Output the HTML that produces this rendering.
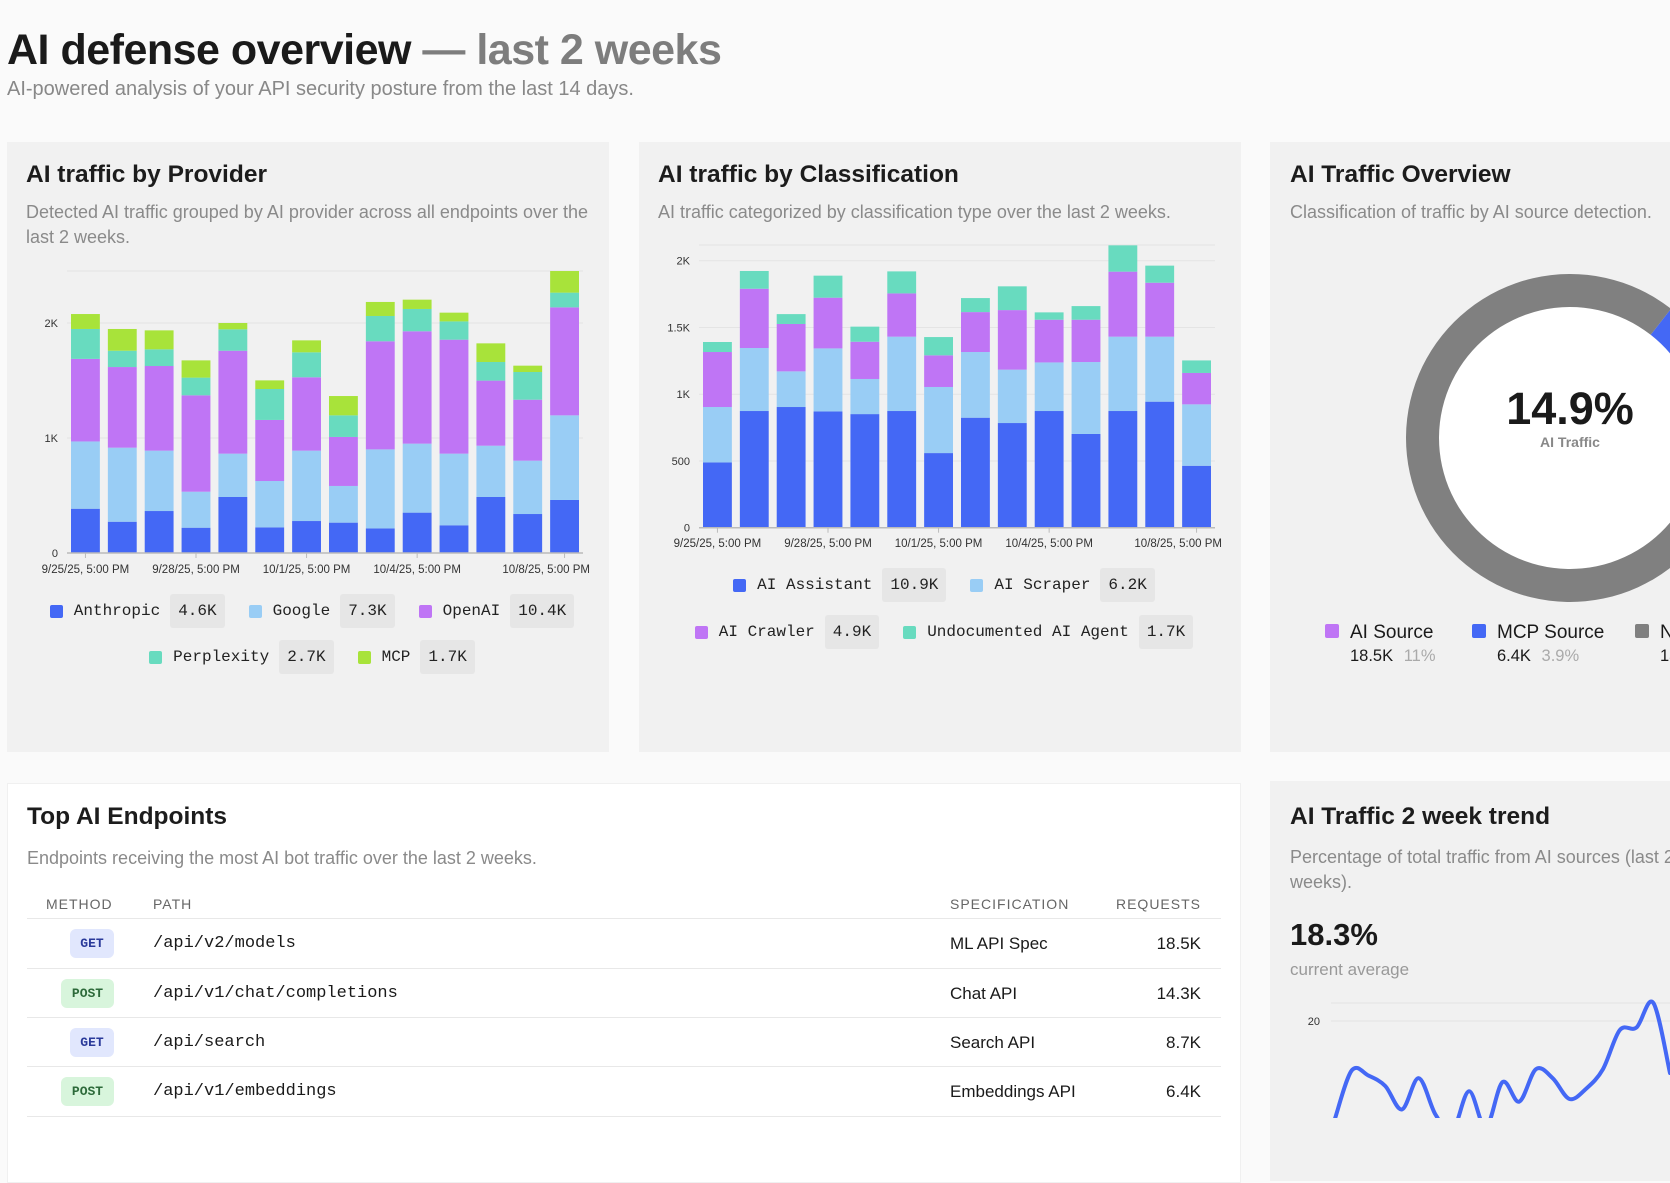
<!DOCTYPE html>
<html><head><meta charset="utf-8">
<style>
*{box-sizing:border-box;margin:0;padding:0}
body{width:1670px;height:1118px;overflow:hidden;background:#fafafa;font-family:"Liberation Sans",sans-serif;color:#1a1a1a;position:relative}
.abs{position:absolute}
.card{position:absolute;background:#f1f1f1}
.ct{position:absolute;font-size:24.5px;font-weight:bold;color:#1c1c1c;white-space:nowrap}
.cd{position:absolute;font-size:18px;color:#8a8a8a;line-height:25px}
.mono{font-family:"Liberation Mono",monospace}
.legrow{position:absolute;display:flex;justify-content:center;gap:24px;height:32px;align-items:center}
.leg{display:flex;align-items:center;font-family:"Liberation Mono",monospace;font-size:16px;color:#222;white-space:nowrap}
.sw{width:13px;height:13px;border-radius:2px;margin-right:11px}
.bd{background:#e6e6e6;padding:8px 8px;margin-left:10px;border-radius:3px}
.th{position:absolute;font-size:14px;color:#666;letter-spacing:1px;top:896px}
.row{position:absolute;font-size:17px}
.sep{position:absolute;left:27px;width:1194px;height:1px;background:#e8e8e8}
.badge{position:absolute;height:29px;border-radius:6px;font-family:"Liberation Mono",monospace;font-weight:bold;font-size:13px;display:flex;align-items:center;justify-content:center}
.get{background:#e1e7fd;color:#2a3a9a;width:44px;left:70px}
.post{background:#d8f5dc;color:#2d6a3a;width:53px;left:61px}
.dl{position:absolute;top:622px;font-size:19px;white-space:nowrap}
.dl .q{display:inline-block;width:14px;height:14px;border-radius:2px;margin-right:11px}
.dl .s{margin-left:25px;font-size:16.5px;margin-top:3px}
</style></head><body>
<div class="abs" style="left:7px;top:26px;font-size:43px;font-weight:bold;letter-spacing:-0.5px;white-space:nowrap">AI defense overview <span style="color:#7d7d7d">— last 2 weeks</span></div>
<div class="abs" style="left:7px;top:78px;font-size:20px;color:#888;white-space:nowrap">AI-powered analysis of your API security posture from the last 14 days.</div>

<div class="card" style="left:7px;top:142px;width:602px;height:610px"></div>
<div class="card" style="left:639px;top:142px;width:602px;height:610px"></div>
<div class="card" style="left:1270px;top:142px;width:420px;height:610px"></div>
<div class="card" style="left:7px;top:783px;width:1234px;height:400px;background:#fff;border:1px solid #f0f0f0"></div>
<div class="card" style="left:1270px;top:781px;width:420px;height:400px"></div>

<div class="ct" style="left:26px;top:161px">AI traffic by Provider</div>
<div class="cd" style="left:26px;top:200px;width:568px">Detected AI traffic grouped by AI provider across all endpoints over the last 2 weeks.</div>
<div class="ct" style="left:658px;top:161px">AI traffic by Classification</div>
<div class="cd" style="left:658px;top:200px;white-space:nowrap">AI traffic categorized by classification type over the last 2 weeks.</div>
<div class="ct" style="left:1290px;top:161px">AI Traffic Overview</div>
<div class="cd" style="left:1290px;top:200px;white-space:nowrap">Classification of traffic by AI source detection.</div>

<svg id="svg" class="abs" style="left:0;top:0" width="1670" height="1118"></svg>

<!-- provider legend -->
<div class="legrow" style="left:7px;width:610px;top:595px">
<div class="leg"><div class="sw" style="background:#4468f5"></div>Anthropic<span class="bd">4.6K</span></div>
<div class="leg"><div class="sw" style="background:#99cdf5"></div>Google<span class="bd">7.3K</span></div>
<div class="leg"><div class="sw" style="background:#bf75f5"></div>OpenAI<span class="bd">10.4K</span></div>
</div>
<div class="legrow" style="left:7px;width:610px;top:641px">
<div class="leg"><div class="sw" style="background:#68dbbf"></div>Perplexity<span class="bd">2.7K</span></div>
<div class="leg"><div class="sw" style="background:#a8e33a"></div>MCP<span class="bd">1.7K</span></div>
</div>
<!-- classification legend -->
<div class="legrow" style="left:639px;width:610px;top:569px">
<div class="leg"><div class="sw" style="background:#4468f5"></div>AI Assistant<span class="bd">10.9K</span></div>
<div class="leg"><div class="sw" style="background:#99cdf5"></div>AI Scraper<span class="bd">6.2K</span></div>
</div>
<div class="legrow" style="left:639px;width:610px;top:616px">
<div class="leg"><div class="sw" style="background:#bf75f5"></div>AI Crawler<span class="bd">4.9K</span></div>
<div class="leg"><div class="sw" style="background:#68dbbf"></div>Undocumented AI Agent<span class="bd">1.7K</span></div>
</div>

<!-- donut text -->
<div class="abs" style="left:1470px;top:383px;width:200px;text-align:center;font-size:45px;font-weight:bold">14.9%</div>
<div class="abs" style="left:1470px;top:434px;width:200px;text-align:center;font-size:14px;font-weight:bold;color:#888">AI Traffic</div>
<div class="dl" style="left:1325px"><span class="q" style="background:#bf75f5"></span>AI Source<div class="s">18.5K <span style="color:#aaa;margin-left:6px">11%</span></div></div>
<div class="dl" style="left:1472px"><span class="q" style="background:#4468f5"></span>MCP Source<div class="s">6.4K <span style="color:#aaa;margin-left:6px">3.9%</span></div></div>
<div class="dl" style="left:1635px"><span class="q" style="background:#808080"></span>Non-AI<div class="s">136K</div></div>

<!-- endpoints table -->
<div class="ct" style="left:27px;top:803px">Top AI Endpoints</div>
<div class="cd" style="left:27px;top:846px;white-space:nowrap">Endpoints receiving the most AI bot traffic over the last 2 weeks.</div>
<div class="th" style="left:46px">METHOD</div>
<div class="th" style="left:153px">PATH</div>
<div class="th" style="left:950px">SPECIFICATION</div>
<div class="th" style="left:1100px;width:101px;text-align:right">REQUESTS</div>
<div class="sep" style="top:918px"></div><div class="sep" style="top:968px"></div><div class="sep" style="top:1017px"></div><div class="sep" style="top:1066px"></div><div class="sep" style="top:1116px"></div>

<div class="badge get" style="top:929px">GET</div>
<div class="row mono" style="left:153px;top:934px">/api/v2/models</div>
<div class="row" style="left:950px;top:934px">ML API Spec</div>
<div class="row" style="left:1100px;width:101px;text-align:right;top:934px">18.5K</div>

<div class="badge post" style="top:979px">POST</div>
<div class="row mono" style="left:153px;top:984px">/api/v1/chat/completions</div>
<div class="row" style="left:950px;top:984px">Chat API</div>
<div class="row" style="left:1100px;width:101px;text-align:right;top:984px">14.3K</div>

<div class="badge get" style="top:1028px">GET</div>
<div class="row mono" style="left:153px;top:1033px">/api/search</div>
<div class="row" style="left:950px;top:1033px">Search API</div>
<div class="row" style="left:1100px;width:101px;text-align:right;top:1033px">8.7K</div>

<div class="badge post" style="top:1077px">POST</div>
<div class="row mono" style="left:153px;top:1082px">/api/v1/embeddings</div>
<div class="row" style="left:950px;top:1082px">Embeddings API</div>
<div class="row" style="left:1100px;width:101px;text-align:right;top:1082px">6.4K</div>

<!-- trend -->
<div class="ct" style="left:1290px;top:803px">AI Traffic 2 week trend</div>
<div class="cd" style="left:1290px;top:845px;width:420px">Percentage of total traffic from AI sources (last 2 weeks).</div>
<div class="abs" style="left:1290px;top:917px;font-size:31px;font-weight:bold">18.3%</div>
<div class="abs" style="left:1290px;top:960px;font-size:17px;color:#999">current average</div>

<script>
const dates = ["9/25/25, 5:00 PM","9/26","9/27","9/28/25, 5:00 PM","9/29","9/30","10/1/25, 5:00 PM","10/2","10/3","10/4/25, 5:00 PM","10/5","10/6","10/7","10/8/25, 5:00 PM"];
const tickIdx = [0,3,6,9,13];
const anthropic = [385,272,365,220,487,223,278,264,214,351,241,487,339,461];
const google = [585,644,525,313,377,403,612,319,687,600,623,446,464,736];
const openai = [718,701,736,838,895,531,638,426,940,977,991,566,530,939];
const perplexity = [260,142,145,154,186,269,217,188,220,194,159,162,241,128];
const mcp = [130,189,165,150,55,75,104,168,122,81,76,162,55,188];
const provTicks = [0,1000,2000];
const provTickLabels = ["0","1K","2K"];

const assistant = [489,874,904,871,851,874,559,824,784,874,702,874,944,464];
const scraper = [415,472,267,472,263,557,495,492,400,364,539,557,487,460];
const crawler = [412,444,355,380,279,324,237,299,446,320,317,487,404,235];
const undocumented = [75,133,74,165,113,165,137,105,178,55,102,197,128,94];
const clsTicks = [0,500,1000,1500,2000];
const clsTickLabels = ["0","500","1K","1.5K","2K"];

const donutLabels = ["MCP Source","AI Source","Non-AI"];
const donutValues = [3.9,11.0,85.1];

const trendValues = [12.5,16.2,15.8,15.0,13.2,15.6,12.8,11.5,14.6,11.8,15.3,13.8,16.3,15.6,14.0,14.8,16.3,19.3,19.5,21.4,16.0];

const NS="http://www.w3.org/2000/svg";
const svg=document.getElementById('svg');
function mk(tag,attrs,parent){const e=document.createElementNS(NS,tag);for(const k in attrs)e.setAttribute(k,attrs[k]);(parent||svg).appendChild(e);return e;}

function stacked(cfg){
  const g=mk('g',{});
  
  
  const step=(cfg.x1-cfg.x0)/dates.length;
  const bw=step-8;
  const xB=i=>cfg.x0+step*i+4;
  const y=v=>cfg.y0-v*cfg.k;
  mk('line',{x1:cfg.x0,x2:cfg.x1,y1:cfg.topY,y2:cfg.topY,stroke:'#e4e4e4'},g);
  cfg.ticks.forEach((t,j)=>{
    if(t>0){const gl=mk('line',{x1:cfg.x0,x2:cfg.x1,y1:y(t),y2:y(t),stroke:'#e4e4e4'},g);
    
    }
    const tx=mk('text',{x:cfg.x0-9,y:y(t)+4,'text-anchor':'end','font-size':11,fill:'#333'},g);
    tx.textContent=cfg.tickLabels[j];
    
    
  });
  dates.forEach((d,i)=>{
    let acc=0;
    cfg.series.forEach((s,si)=>{
      const v=s[i];
      const r=mk('rect',{x:xB(i),y:y(acc+v),width:bw,height:v*cfg.k,fill:cfg.colors[si]},g);
      
      
      acc+=v;
    });
  });
  mk('line',{x1:cfg.x0,x2:cfg.x1,y1:cfg.y0,y2:cfg.y0,stroke:'#bbb','stroke-width':1.5},g);
  tickIdx.forEach((i,k)=>{
    const cx=xB(i)+bw/2;
    mk('line',{x1:cx,x2:cx,y1:cfg.y0,y2:cfg.y0+5,stroke:'#bbb'},g);
    const last=k===tickIdx.length-1;
    const tx=mk('text',{x:last?cfg.x1+7:cx,y:cfg.labY,'text-anchor':last?'end':'middle','font-size':11.5,fill:'#333'},g);
    tx.textContent=dates[i];
    
    
  });
}
stacked({name:'provider-chart',x0:67,x1:583,y0:553,k:0.115,topY:271,labY:573,ticks:provTicks,tickLabels:provTickLabels,
  series:[anthropic,google,openai,perplexity,mcp],colors:['#4468f5','#99cdf5','#bf75f5','#68dbbf','#a8e33a']});
stacked({name:'classification-chart',x0:699,x1:1215,y0:527.7,k:0.1335,topY:245,labY:547,ticks:clsTicks,tickLabels:clsTickLabels,
  series:[assistant,scraper,crawler,undocumented],colors:['#4468f5','#99cdf5','#bf75f5','#68dbbf']});

// donut
(function(){
  const cx=1570,cy=438,R=164,r=131;
  const colors=['#4468f5','#bf75f5','#808080'];
  const total=donutValues.reduce((a,b)=>a+b,0);
  let a=38*Math.PI/180;
  const pt=(rad,ang)=>[cx+rad*Math.sin(ang),cy-rad*Math.cos(ang)];
  mk('circle',{cx:cx,cy:cy,r:r,fill:'#fff'});
  donutValues.forEach((v,i)=>{
    const a2=a+v/total*2*Math.PI;
    const large=(a2-a)>Math.PI?1:0;
    const p1=pt(R,a),p2=pt(R,a2),p3=pt(r,a2),p4=pt(r,a);
    const p=mk('path',{d:`M${p1}A${R},${R} 0 ${large} 1 ${p2}L${p3}A${r},${r} 0 ${large} 0 ${p4}Z`,fill:colors[i]});
    
    
    a=a2;
  });
})();

// trend line
(function(){
  const x=i=>1335+16.75*i;
  const y=v=>1021-(v-20)*13;
  mk('line',{x1:1331,x2:1670,y1:1003,y2:1003,stroke:'#e2e2e2'});
  mk('line',{x1:1331,x2:1670,y1:y(20),y2:y(20),stroke:'#e2e2e2'});
  const t=mk('text',{x:1320,y:y(20)+4,'text-anchor':'end','font-size':11,fill:'#333'});
  t.textContent='20';
  
  
  const P=trendValues.map((v,i)=>[x(i),y(v)]);
  let d=`M${P[0][0]},${P[0][1]}`;
  for(let i=0;i<P.length-1;i++){
    const p0=P[Math.max(0,i-1)],p1=P[i],p2=P[i+1],p3=P[Math.min(P.length-1,i+2)];
    const c1=[p1[0]+(p2[0]-p0[0])/6,p1[1]+(p2[1]-p0[1])/6],c2=[p2[0]-(p3[0]-p1[0])/6,p2[1]-(p3[1]-p1[1])/6];
    d+=`C${c1} ${c2} ${p2}`;
  }
  const ln=mk('path',{d:d,fill:'none',stroke:'#4468f5','stroke-width':4,'stroke-linecap':'round'});
  
  
})();
</script>
</body></html>
